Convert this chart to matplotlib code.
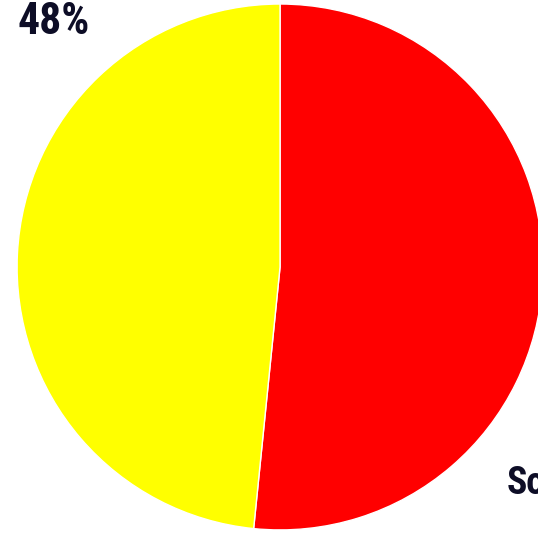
import matplotlib
matplotlib.use("Agg")
import matplotlib.pyplot as plt
from matplotlib import font_manager

categories = ["Some", "Other"]
values = [51.6, 48.4]
colors = ["#ff0000", "#ffff00"]
label_48 = "48%"
label_so = "Some"

# pick the narrowest bold sans available
names = {f.name for f in font_manager.fontManager.ttflist}
fam = "DejaVu Sans"
for cand in ["Liberation Sans Narrow", "Arial Narrow", "Roboto Condensed",
             "Open Sans Condensed", "Roboto"]:
    if cand in names:
        fam = cand
        break

fig = plt.figure(figsize=(5.38, 5.35), dpi=100)
ax = fig.add_axes([0, 0, 1, 1])
ax.pie(values, colors=colors, startangle=90, counterclock=False,
       wedgeprops=dict(edgecolor="white", linewidth=1.0))
ax.set_xlim(-1.065, 0.981)
ax.set_ylim(-1.019, 1.015)
ax.set_aspect("equal")
ax.axis("off")

ax.text(-1.0, 0.93, label_48, ha="left", va="center", fontsize=31.5,
        fontweight="bold", color="#0d0d26", family=fam)
ax.text(0.863, -0.822, label_so, ha="left", va="center", fontsize=27,
        fontweight="bold", color="#0d0d26", family=fam)

fig.savefig("out.png", dpi=100)
